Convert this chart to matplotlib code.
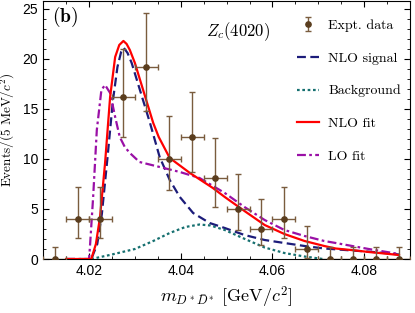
import numpy as np
import matplotlib
matplotlib.use("Agg")
import matplotlib.pyplot as plt
from matplotlib.ticker import MultipleLocator

plt.rcParams['mathtext.fontset'] = 'cm'
plt.rcParams['font.family'] = ['Liberation Sans', 'DejaVu Sans']

# datos experimentales (centro del bin, eventos, errores asimetricos)
data_x = [4.0125, 4.0175, 4.0225, 4.0275, 4.0325, 4.0375, 4.0425, 4.0475,
          4.0525, 4.0575, 4.0625, 4.0675, 4.0725, 4.0775, 4.0825, 4.0875]
data_y = [0, 4.0, 4.0, 16.2, 19.2, 10.0, 12.2, 8.1, 5.0, 3.0, 4.0, 1.0, 0, 0, 0, 0]
err_lo = [0, 1.9, 1.9, 4.0, 4.4, 3.1, 3.5, 2.9, 2.1, 1.6, 1.9, 0.9, 0, 0, 0, 0]
err_hi = [1.2, 3.2, 3.2, 4.8, 5.4, 4.3, 4.5, 4.0, 3.5, 3.0, 3.2, 2.3, 1.2, 1.2, 1.2, 1.2]
half_bin = 0.0025

# curvas
nlo_fit_x = [4.0150, 4.0205, 4.0215, 4.0224, 4.0235, 4.0246, 4.0257, 4.0266, 4.0275,
             4.0282, 4.0289, 4.0300, 4.0318, 4.0340, 4.0352, 4.0376, 4.0420, 4.0470,
             4.0496, 4.0539, 4.0583, 4.0626, 4.0670, 4.0713, 4.0738, 4.0782, 4.0810,
             4.0833, 4.0876]
nlo_fit_y = [0, 0, 1.5, 4.2, 9.6, 16.2, 20.2, 21.4, 21.8,
             21.5, 20.9, 19.6, 16.9, 13.6, 12.2, 10.1, 8.6, 7.1,
             6.2, 4.8, 3.4, 2.5, 1.8, 1.3, 1.05, 0.85, 0.7,
             0.6, 0.4]

nlo_sig_x = [4.0150, 4.0205, 4.0218, 4.0228, 4.0240, 4.0252, 4.0262, 4.0270, 4.0276,
             4.0284, 4.0293, 4.0311, 4.0333, 4.0354, 4.0376, 4.0398, 4.0427, 4.0463,
             4.0496, 4.0539, 4.0583, 4.0626, 4.0670, 4.0713, 4.0774, 4.0820, 4.0876]
nlo_sig_y = [0, 0, 1.5, 4.5, 10.0, 15.8, 19.2, 20.7, 21.1,
             20.6, 19.6, 16.9, 13.6, 10.2, 7.9, 6.2, 4.6, 3.6,
             3.1, 2.4, 1.9, 1.6, 1.3, 1.05, 0.85, 0.7, 0.45]

bkg_x = [4.0205, 4.0250, 4.0300, 4.0340, 4.0376, 4.0410, 4.0441, 4.0465, 4.0496,
         4.0540, 4.0583, 4.0626, 4.0670, 4.0710]
bkg_y = [0, 0.45, 1.0, 1.8, 2.6, 3.2, 3.45, 3.35, 2.9,
         2.0, 1.15, 0.6, 0.25, 0.0]

lo_fit_x = [4.0150, 4.0200, 4.0202, 4.0209, 4.0217, 4.0227, 4.0235, 4.0246, 4.0257,
            4.0267, 4.0278, 4.0289, 4.0310, 4.0354, 4.0398, 4.0441, 4.0485, 4.0496,
            4.0539, 4.0583, 4.0626, 4.0670, 4.0713, 4.0738, 4.0810, 4.0876]
lo_fit_y = [0, 0, 1.2, 6.2, 12.9, 16.9, 17.4, 16.6, 14.2,
            12.2, 11.2, 10.6, 9.7, 9.2, 8.7, 8.1, 6.9, 6.6,
            5.2, 3.9, 2.9, 2.3, 1.8, 1.6, 1.0, 0.5]

fig = plt.figure(figsize=(4.15, 3.13), dpi=100)
ax = fig.add_axes([0.104, 0.1725, 0.884, 0.8245])

brown = '#7a5c3e'
ax.errorbar(data_x, data_y, yerr=[err_lo, err_hi], xerr=half_bin, fmt='o',
            color=brown, mfc='#5a3d1e', mec='#5a3d1e', ms=3.8, elinewidth=1.0,
            capsize=2.5, capthick=1.0, zorder=5)

ax.plot(nlo_sig_x, nlo_sig_y, color='#1c1c7a', lw=1.6, ls=(0, (4, 2)), label='NLO signal', zorder=3)
ax.plot(bkg_x, bkg_y, color='#167070', lw=1.6, ls=(0, (1.2, 1.2)), label='Background', zorder=3)
ax.plot(nlo_fit_x, nlo_fit_y, color='#ff0000', lw=1.6, label='NLO fit', zorder=4)
ax.plot(lo_fit_x, lo_fit_y, color='#9a10a6', lw=1.6, ls=(0, (4, 1.5, 1.2, 1.5)), label='LO fit', zorder=3)

# proxy para la leyenda de los datos (solo barra vertical)
proxy = ax.errorbar([np.nan], [np.nan], yerr=[1], fmt='o', color=brown,
                    mfc='#5a3d1e', mec='#5a3d1e', ms=3.8, elinewidth=1.0,
                    capsize=2.5, capthick=1.0, label='Expt. data')

handles, labels = ax.get_legend_handles_labels()
order = [labels.index(l) for l in ['Expt. data', 'NLO signal', 'Background', 'NLO fit', 'LO fit']]
ax.legend([handles[i] for i in order], [labels[i] for i in order],
          loc='upper left', frameon=False, prop={'family': 'cmr10', 'size': 10},
          labelspacing=1.45, handlelength=1.6, handletextpad=0.65,
          borderpad=0, borderaxespad=0, bbox_to_anchor=(0.692, 0.93))

ax.set_xlim(4.01, 4.09)
ax.set_ylim(0, 25.8)
ax.xaxis.set_major_locator(MultipleLocator(0.02))
ax.xaxis.set_minor_locator(MultipleLocator(0.005))
ax.yaxis.set_major_locator(MultipleLocator(5))
ax.yaxis.set_minor_locator(MultipleLocator(1))
ax.set_xticks([4.02, 4.04, 4.06, 4.08])
ax.set_xticklabels(['4.02', '4.04', '4.06', '4.08'])
ax.tick_params(which='both', direction='in', top=True, right=True, labelsize=10)
ax.tick_params(which='major', length=4, width=0.8)
ax.tick_params(which='minor', length=2, width=0.6)

ax.set_xlabel(r'$m_{D^*\bar{D}^*}\ [\mathrm{GeV}/c^2]$', fontsize=13, labelpad=5)
ax.set_ylabel(r'Events/(5 MeV/$c^2$)', family='cmr10', fontsize=9.5, labelpad=4)

ax.text(0.025, 0.985, r'$\mathbf{(b)}$', transform=ax.transAxes, fontsize=14,
        ha='left', va='top')
ax.text(0.53, 0.88, r'$Z_c(4020)$', transform=ax.transAxes, fontsize=12,
        ha='center', va='center')

fig.savefig('out.png', dpi=100)
